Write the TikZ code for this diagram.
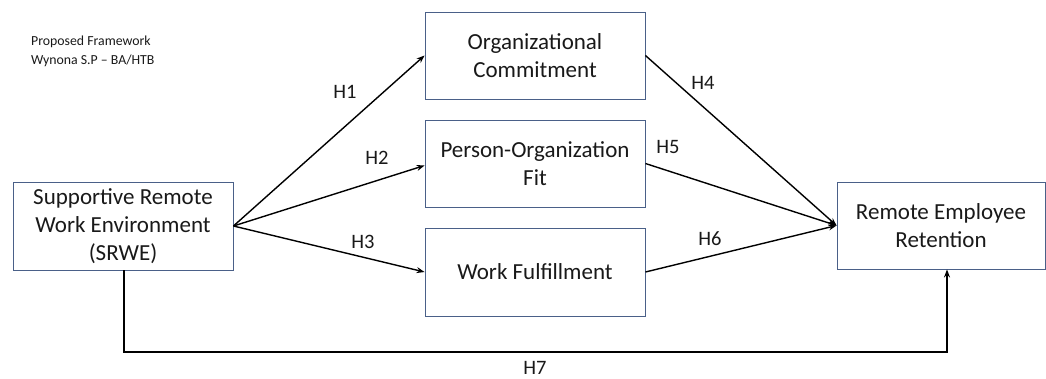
\documentclass[tikz,border=0pt]{standalone}
\usepackage{fontspec}
\setmainfont{Carlito}
\usetikzlibrary{arrows.meta}
\definecolor{boxline}{HTML}{4A6088}
\begin{document}
\begin{tikzpicture}[x=1pt,y=-1pt,
  box/.style={draw=boxline,line width=0.9pt,fill=white,align=center,inner sep=0pt,
    font=\fontsize{23}{28}\selectfont,text=black!90},
  conn/.style={draw=black,line width=1.4pt,-{Stealth[length=8pt,width=6pt]}},
  hlab/.style={font=\fontsize{20.5}{24}\selectfont,text=black!90}]
\useasboundingbox (0,0) rectangle (1046,378);
\node[box,minimum width=220pt,minimum height=88pt] (srwe) at (123,226) {Supportive Remote\\Work Environment\\(SRWE)};
\node[box,minimum width=220pt,minimum height=87pt] (oc) at (535,55.5) {Organizational\\Commitment};
\node[box,minimum width=220pt,minimum height=87pt] (pof) at (535,163.5) {Person-Organization\\Fit};
\node[box,minimum width=220pt,minimum height=88pt] (wf) at (535,272) {Work Fulfillment};
\node[box,minimum width=208pt,minimum height=87pt] (rer) at (941,225.5) {Remote Employee\\Retention};
\node[font=\fontsize{13.8}{19}\selectfont,align=left,anchor=north west,inner sep=0pt,text=black!90] (title) at (31,36) {Proposed Framework\\Wynona S.P -- BA/HTB};
\coordinate (conv) at (rer.west);
\coordinate (c1) at (124,352);
\coordinate (c2) at (947,352);
\draw[conn] (srwe.east) -- (oc.west);
\draw[conn] (srwe.east) -- ([yshift=-2pt]pof.west);
\draw[conn] (srwe.east) -- (wf.west);
\draw[conn] (oc.east) -- (conv);
\draw[conn] (pof.east) -- (conv);
\draw[conn] (wf.east) -- (conv);
\draw[conn] (srwe.south -| c1) -- (c1) -- (c2) -- (rer.south -| c2);
\node[hlab] (h1) at (345,92) {H1};
\node[hlab] (h2) at (377,158) {H2};
\node[hlab] (h3) at (363,242) {H3};
\node[hlab] (h4) at (703,83) {H4};
\node[hlab] (h5) at (668,147) {H5};
\node[hlab] (h6) at (710,239) {H6};
\node[hlab] (h7) at (535,368) {H7};
\end{tikzpicture}
\end{document}
